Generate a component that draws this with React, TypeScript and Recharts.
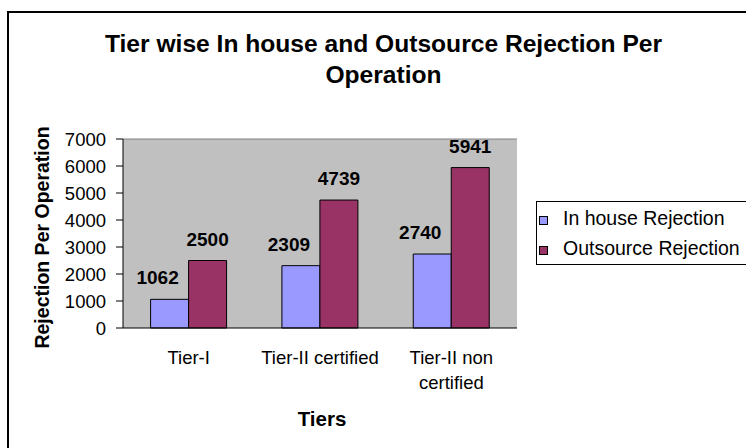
import React from 'react';
import {
  BarChart,
  Bar,
  XAxis,
  YAxis,
  CartesianGrid,
  ReferenceLine,
  LabelList,
  Label,
} from 'recharts';

const tiers = ['Tier-I', 'Tier-II certified', 'Tier-II non certified'];
const inHouse = [1062, 2309, 2740];
const outsource = [2500, 4739, 5941];
const yTicks = [0, 1000, 2000, 3000, 4000, 5000, 6000, 7000];
const seriesNames = ['In house Rejection', 'Outsource Rejection'];
const seriesColors = ['#9999FF', '#993366'];

const FONT = '"Liberation Sans", Arial, sans-serif';

const data = tiers.map((tier, i) => ({
  tier,
  inHouse: inHouse[i],
  outsource: outsource[i],
}));

// split long category names into lines (Excel wraps them)
const wrap = (s: string, max = 18) => {
  const lines: string[] = [];
  let cur = '';
  s.split(' ').forEach((w) => {
    const next = cur ? cur + ' ' + w : w;
    if (next.length > max && cur) {
      lines.push(cur);
      cur = w;
    } else cur = next;
  });
  if (cur) lines.push(cur);
  return lines;
};

const TierTick = (props: any) => {
  const { x, y, payload } = props;
  const lines = wrap(String(payload.value));
  return (
    <text x={x} y={y} textAnchor="middle" fontSize={18.5} fontFamily={FONT} fill="#000">
      {lines.map((l, i) => (
        <tspan key={i} x={x} dy={i === 0 ? 36 : 25}>
          {l}
        </tspan>
      ))}
    </text>
  );
};

const valueLabel = (shift: number) => (props: any) => {
  const { x, y, width, value } = props;
  return (
    <text
      x={Number(x) + Number(width) / 2 + shift}
      y={Number(y) - 15}
      textAnchor="middle"
      fontSize={19}
      fontWeight="bold"
      fontFamily={FONT}
      fill="#000"
    >
      {value}
    </text>
  );
};

export default function App() {
  return (
    <div
      style={{
        position: 'absolute',
        left: 0,
        top: 0,
        width: 746,
        height: 448,
        overflow: 'hidden',
        background: '#fff',
        fontFamily: FONT,
      }}
    >
      <div
        style={{
          position: 'absolute',
          left: 7,
          top: 11,
          width: 800,
          height: 500,
          border: '2px solid #000',
        }}
      />
      <div
        style={{
          position: 'absolute',
          left: 100,
          top: 28,
          width: 567,
          textAlign: 'center',
          fontSize: 24.6,
          fontWeight: 'bold',
          lineHeight: '31px',
          color: '#000',
        }}
      >
        Tier wise In house and Outsource Rejection Per
        <br />
        Operation
      </div>
      <div style={{ position: 'absolute', left: 0, top: 0 }}>
        <BarChart
          width={746}
          height={448}
          data={data}
          margin={{ top: 139, right: 229, bottom: 0, left: 0 }}
          barCategoryGap="21%"
          barGap={0}
        >
          <CartesianGrid fill="#C0C0C0" horizontal={false} vertical={false} />
          <XAxis
            xAxisId="b"
            type="number"
            domain={[0, 3]}
            ticks={[0, 1, 2, 3]}
            allowDataOverflow
            tick={false}
            tickSize={6}
            tickLine={{ stroke: '#000' }}
            axisLine={false}
            height={0}
          />
          <XAxis
            dataKey="tier"
            height={120}
            tickLine={false}
            tickSize={0}
            tickMargin={0}
            interval={0}
            axisLine={{ stroke: '#000' }}
            tick={<TierTick />}
          >
            <Label
              content={(p: any) => {
                const vb = p.viewBox;
                return (
                  <text
                    x={vb.x + vb.width / 2 + 2}
                    y={vb.y + 98}
                    textAnchor="middle"
                    fontSize={20.5}
                    fontWeight="bold"
                    fontFamily={FONT}
                    fill="#000"
                  >
                    Tiers
                  </text>
                );
              }}
            />
          </XAxis>
          <YAxis
            width={123}
            domain={[0, 7000]}
            ticks={yTicks}
            interval={0}
            tickSize={7}
            tickMargin={10}
            axisLine={{ stroke: '#000' }}
            tickLine={{ stroke: '#000' }}
            tick={{ fontSize: 18.5, fill: '#000', fontFamily: FONT }}
          >
            <Label
              content={() => (
                <text
                  x={42.5}
                  y={237.5}
                  transform="rotate(-90, 42.5, 237.5)"
                  textAnchor="middle"
                  dy="0.35em"
                  fontSize={19.5}
                  fontWeight="bold"
                  fontFamily={FONT}
                  fill="#000"
                >
                  Rejection Per Operation
                </text>
              )}
            />
          </YAxis>
          <ReferenceLine y={7000} stroke="#808080" />
          <ReferenceLine x={3} xAxisId="b" stroke="#808080" />
          <Bar
            dataKey="inHouse"
            name={seriesNames[0]}
            fill={seriesColors[0]}
            stroke="#000"
            strokeWidth={1}
            isAnimationActive={false}
          >
            <LabelList dataKey="inHouse" content={valueLabel(-12)} />
          </Bar>
          <Bar
            dataKey="outsource"
            name={seriesNames[1]}
            fill={seriesColors[1]}
            stroke="#000"
            strokeWidth={1}
            isAnimationActive={false}
          >
            <LabelList dataKey="outsource" content={valueLabel(0)} />
          </Bar>
        </BarChart>
      </div>
      <div
        style={{
          position: 'absolute',
          left: 536,
          top: 201,
          width: 240,
          height: 64,
          border: '1px solid #000',
          boxSizing: 'border-box',
          background: '#fff',
        }}
      />
      {seriesNames.map((name, i) => (
        <React.Fragment key={name}>
          <div
            style={{
              position: 'absolute',
              left: 539,
              top: 216 + i * 29.5,
              width: 9,
              height: 9,
              boxSizing: 'border-box',
              border: '1px solid #000',
              background: seriesColors[i],
            }}
          />
          <div
            style={{
              position: 'absolute',
              left: 563,
              top: 207.3 + i * 30,
              fontSize: 19.5,
              lineHeight: '22px',
              whiteSpace: 'nowrap',
              color: '#000',
            }}
          >
            {name}
          </div>
        </React.Fragment>
      ))}
    </div>
  );
}
